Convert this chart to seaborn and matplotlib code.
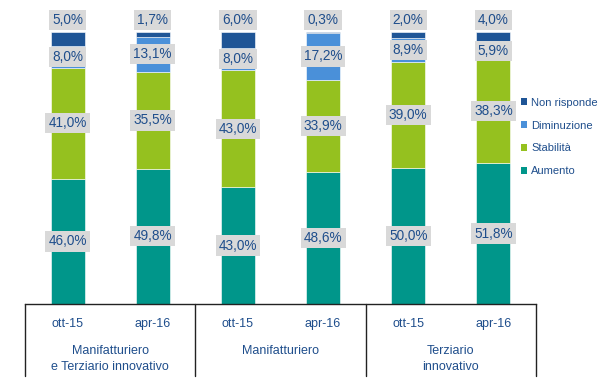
import matplotlib
matplotlib.use("Agg")
import matplotlib.pyplot as plt
import matplotlib.transforms as mtransforms
from matplotlib.patches import Patch
import seaborn as sns
import numpy as np
import pandas as pd

# data
periods = ["ott-15", "apr-16", "ott-15", "apr-16", "ott-15", "apr-16"]
groups = ["Manifatturiero\ne Terziario innovativo", "Manifatturiero", "Terziario\ninnovativo"]
series = ["Aumento", "Stabilità", "Diminuzione", "Non risponde"]
aumento = [46.0, 49.8, 43.0, 48.6, 50.0, 51.8]
stabilita = [41.0, 35.5, 43.0, 33.9, 39.0, 38.3]
diminuzione = [8.0, 13.1, 8.0, 17.2, 8.9, 5.9]
non_risponde = [5.0, 1.7, 6.0, 0.3, 2.0, 4.0]

colors = ["#00968a", "#95c11f", "#4a90d9", "#1f5596"]
text_col = "#1f4e8c"

sns.set_style("white")
plt.rcParams["font.family"] = ["Liberation Sans", "DejaVu Sans"]

bar_ids = [f"b{i}" for i in range(len(periods))]
df = pd.DataFrame({"bar": bar_ids, "Aumento": aumento, "Stabilità": stabilita,
                   "Diminuzione": diminuzione, "Non risponde": non_risponde})

fig = plt.figure(figsize=(6, 3.91), dpi=100)
ax = fig.add_axes([25 / 600, 87 / 391, 511 / 600, 299 / 391])

bottom = np.zeros(len(df))
for name, col in zip(series, colors):
    sns.barplot(data=df, x="bar", y=name, order=bar_ids, color=col, width=0.4,
                bottom=bottom, edgecolor="white", linewidth=0.4, saturation=1,
                ax=ax)
    vals = df[name].values
    for i, v in enumerate(vals):
        if name == "Non risponde":
            ypos = bottom[i] + v + 4.5
        else:
            ypos = bottom[i] + v / 2
        lab = f"{v:.1f}%".replace(".", ",")
        ax.text(i, ypos, lab, ha="center", va="center", fontsize=9.8, color=text_col,
                bbox=dict(facecolor="#d9d9d9", edgecolor="none", pad=2.3))
    bottom = bottom + vals

ax.set_xlim(-0.5, 5.5)
ax.set_ylim(0, 110)
ax.set_yticks([])
ax.set_xlabel("")
ax.set_ylabel("")
ax.set_xticks(range(len(periods)))
ax.set_xticklabels(periods, fontsize=9, color=text_col)
ax.tick_params(axis="x", length=0, pad=10)
for s in ["top", "left", "right"]:
    ax.spines[s].set_visible(False)
ax.spines["bottom"].set_color("#222222")
ax.spines["bottom"].set_linewidth(1)

# group separators and group labels below the axis
trans = mtransforms.blended_transform_factory(ax.transData, ax.transAxes)
for xs in [-0.5, 1.5, 3.5, 5.5]:
    ax.plot([xs, xs], [0, -0.24], transform=trans, color="#222222", lw=1, clip_on=False)
for k, g in enumerate(groups):
    ax.text(2 * k + 0.5, -0.137, g, transform=trans, ha="center", va="top",
            fontsize=9, color=text_col, linespacing=1.45)

handles = [Patch(facecolor=c, edgecolor="none") for c in colors]
leg = fig.legend(handles[::-1], series[::-1], loc="center left",
                 bbox_to_anchor=(515 / 600, 1 - 137 / 391), frameon=False,
                 fontsize=8, handlelength=0.6, handleheight=0.6, handletextpad=0.35,
                 labelspacing=1.15, borderpad=0)
for t in leg.get_texts():
    t.set_color(text_col)

fig.savefig("out.png", dpi=100)
